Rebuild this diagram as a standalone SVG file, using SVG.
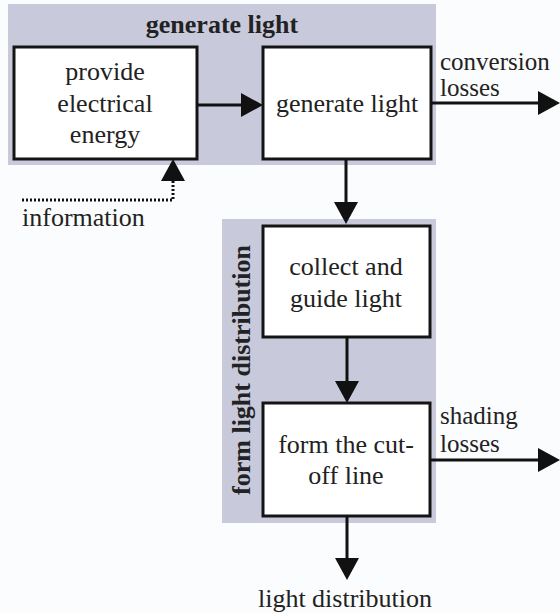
<svg xmlns="http://www.w3.org/2000/svg" width="560" height="614" viewBox="0 0 560 614">
  <style>
    .bg { fill: #c8cadc; }
    .box { fill: #ffffff; stroke: #141414; stroke-width: 3; }
    .txt { font-family: "Liberation Serif", "DejaVu Serif", serif; font-size: 26px; fill: #222222; }
    .side { font-size: 25px; }
    .ctr { text-anchor: middle; }
    .title { font-weight: bold; }
    .line { fill: none; stroke: #111111; stroke-width: 3; }
    .dot { stroke-dasharray: 2 2; }
  </style>
  <defs>
    <marker id="head" viewBox="0 0 22 24" refX="0" refY="12" markerWidth="22" markerHeight="24" markerUnits="userSpaceOnUse" orient="auto">
      <path d="M0,0 L22,12 L0,24 z" fill="#111111"/>
    </marker>
  </defs>
  <rect width="560" height="614" fill="#fbfcfd"/>

  <!-- group: generate light -->
  <g id="group-generate-light">
    <rect class="bg" x="8" y="4" width="428" height="161"/>
    <text class="txt ctr title" x="222" y="33">generate light</text>
  </g>

  <!-- group: form light distribution -->
  <g id="group-form-light-distribution">
    <rect class="bg" x="222" y="219" width="214" height="304"/>
    <text class="txt ctr title" transform="translate(250,370) rotate(-90)">form light distribution</text>
  </g>

  <g id="node-provide-energy">
    <rect class="box" x="14" y="47" width="183" height="112"/>
    <text class="txt ctr" x="105" y="80">provide</text>
    <text class="txt ctr" x="105" y="112">electrical</text>
    <text class="txt ctr" x="105" y="143">energy</text>
  </g>

  <g id="node-generate-light">
    <rect class="box" x="263" y="47" width="168" height="112"/>
    <text class="txt ctr" x="347" y="112">generate light</text>
  </g>

  <g id="node-collect-guide">
    <rect class="box" x="263" y="226" width="167" height="111"/>
    <text class="txt ctr" x="346" y="275">collect and</text>
    <text class="txt ctr" x="346" y="307">guide light</text>
  </g>

  <g id="node-cut-off">
    <rect class="box" x="263" y="403" width="167" height="113"/>
    <text class="txt ctr" x="346" y="453">form the cut-</text>
    <text class="txt ctr" x="346" y="484">off line</text>
  </g>

  <!-- connectors -->
  <g id="connectors">
    <path class="line" d="M197,105 H241" marker-end="url(#head)"/>
    <path class="line" d="M431,103 H538" marker-end="url(#head)"/>
    <path class="line" d="M346,159 V202" marker-end="url(#head)"/>
    <path class="line" d="M347,337 V381" marker-end="url(#head)"/>
    <path class="line" d="M430,460 H538" marker-end="url(#head)"/>
    <path class="line" d="M347,516 V558" marker-end="url(#head)"/>
    <path class="line dot" d="M22,200 H173 V181" marker-end="url(#head)"/>
  </g>

  <!-- flow labels -->
  <g id="labels">
    <text class="txt side" x="440" y="70">conversion</text>
    <text class="txt side" x="440" y="96">losses</text>
    <text class="txt side" x="440" y="424">shading</text>
    <text class="txt side" x="440" y="452">losses</text>
    <text class="txt" x="22" y="226">information</text>
    <text class="txt ctr" x="345" y="607">light distribution</text>
  </g>
</svg>
